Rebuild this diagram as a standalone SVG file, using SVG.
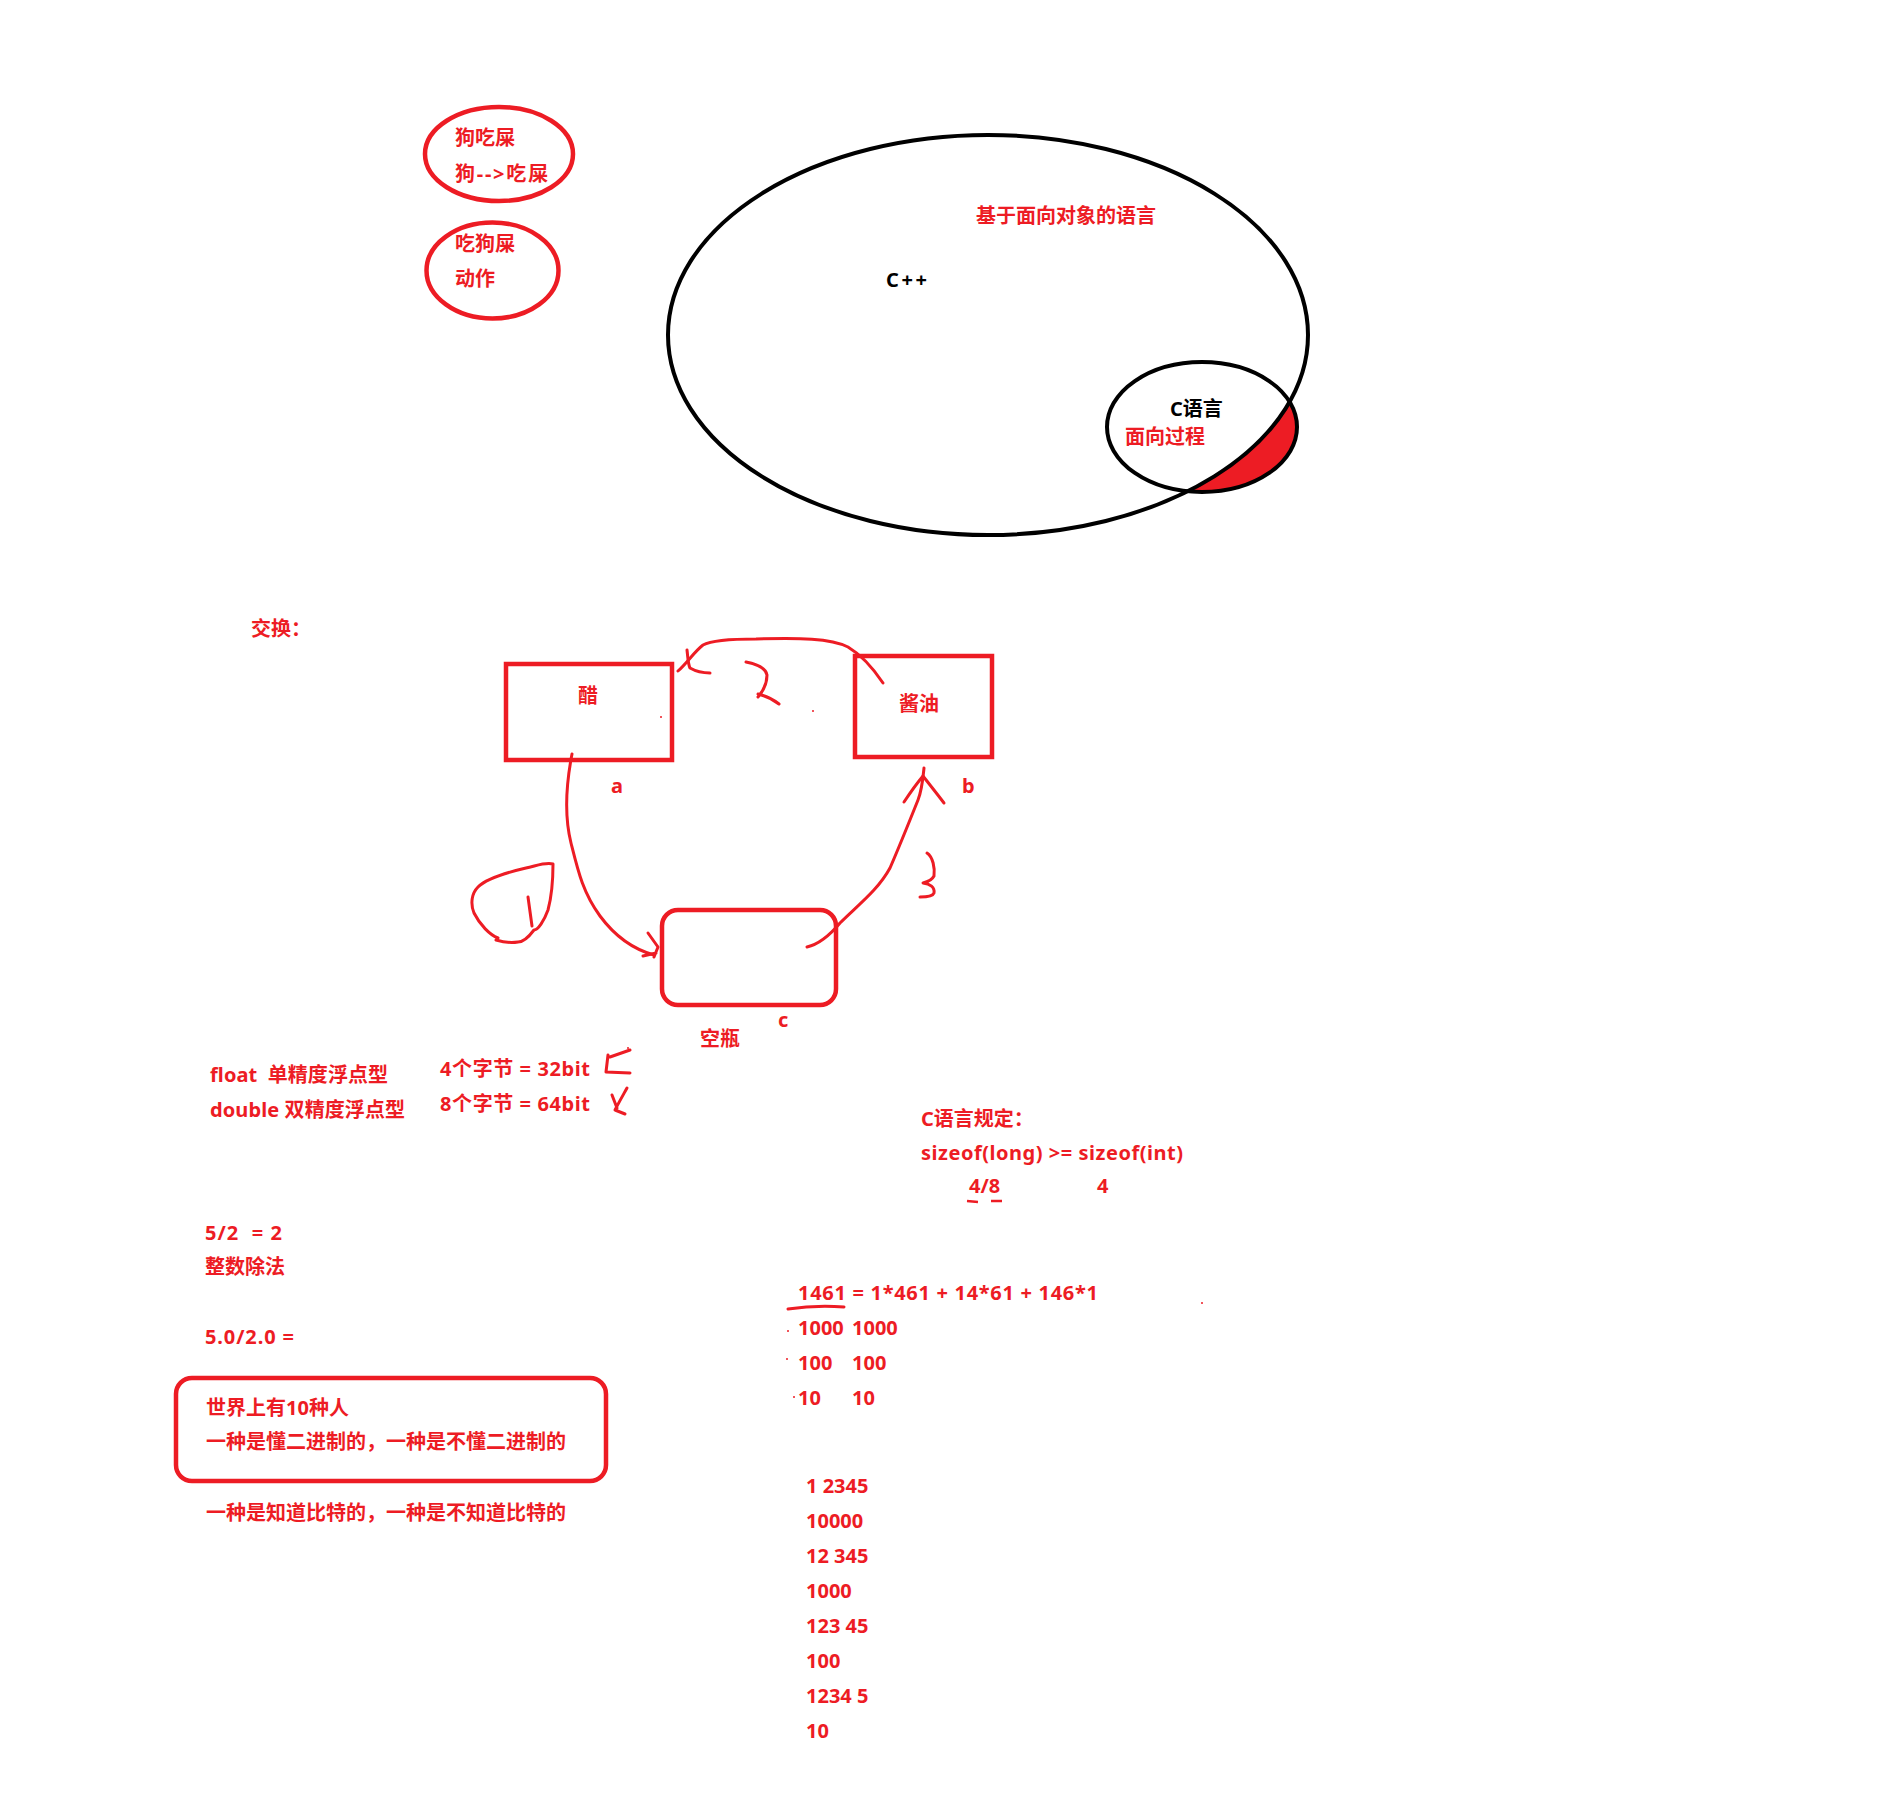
<svg xmlns="http://www.w3.org/2000/svg" width="1895" height="1800" viewBox="0 0 1895 1800">
<style>
.t{font-family:'Noto Sans','Noto Sans CJK SC',sans-serif;font-weight:bold;font-size:20px;fill:#ed1c24;white-space:pre}
.k{fill:#000}
.rb{fill:none;stroke:#ed1c24;stroke-width:4.5}
.h{fill:none;stroke:#ed1c24;stroke-width:3;stroke-linecap:round;stroke-linejoin:round}
.bk{fill:none;stroke:#000;stroke-width:4}
.dot{fill:#ed1c24}
</style>
<rect width="1895" height="1800" fill="#fff"/>
<g id="dog1"><ellipse class="rb" cx="499" cy="154" rx="74" ry="47"/><text class="t" x="455" y="145">狗吃屎</text><text class="t" x="455" y="181" textLength="93" lengthAdjust="spacing">狗--&gt;吃屎</text></g>
<g id="dog2"><ellipse class="rb" cx="492.5" cy="270.5" rx="66" ry="48"/><text class="t" x="455" y="251">吃狗屎</text><text class="t" x="455" y="286">动作</text></g>
<g id="venn">
<ellipse cx="1202" cy="427" rx="95" ry="65" fill="#ed1c24"/>
<ellipse cx="988" cy="335" rx="320" ry="200" fill="#fff" stroke="#000" stroke-width="4"/>
<ellipse class="bk" cx="1202" cy="427" rx="95" ry="65"/>
<text class="t" x="976" y="223">基于面向对象的语言</text>
<text class="t k" x="886" y="287" textLength="41" lengthAdjust="spacing">C++</text>
<text class="t k" x="1170" y="416">C语言</text>
<text class="t" x="1125" y="444">面向过程</text>
</g>
<text class="t" x="251" y="636">交换：</text>
<g id="vinegar"><rect class="rb" x="506" y="664" width="166" height="96"/><text class="t" x="578" y="703">醋</text><text class="t" x="611" y="793">a</text></g>
<g id="soy"><rect class="rb" x="855" y="656" width="137" height="101"/><text class="t" x="899" y="711">酱油</text><text class="t" x="962" y="793">b</text></g>
<g id="bottle"><rect class="rb" x="662" y="910" width="174" height="95" rx="16"/><text class="t" x="778" y="1027">c</text><text class="t" x="700" y="1046">空瓶</text></g>
<g id="connectors">
<path class="h" d="M572,754 C566,785 564,815 571,843 S583,893 600,916 S636,950 654,955"/>
<path class="h" d="M648,933 L658,947 L654,957 M643,956 L656,953"/>
<path class="h" d="M807,947 C820,944 830,935 840,923 C858,905 878,890 890,868 C900,845 910,820 918,800 C922,790 923,778 924,768"/>
<path class="h" d="M904,802 C912,790 918,782 923,776 C930,785 938,795 944,803"/>
<path class="h" d="M883,683 C873,668 863,656 848,647 C830,638 800,638 756,639 C730,639 712,640 703,645 C694,652 688,662 678,671"/>
<path class="h" d="M687,650 C688,658 688,664 690,668 C697,672 704,673 710,673"/>
<path class="h" d="M746,662 C756,664 766,668 767,675 C767,684 764,690 758,697 M758,694 C766,696 774,700 779,704"/>
<path class="h" d="M927,853 C933,857 935,868 934,876 C932,880 927,882 923,883 C930,884 935,887 934,893 C933,896 926,897 920,897"/>
<path class="h" d="M498,938 C490,935 480,925 474,913 C470,903 472,893 478,887 C485,880 500,874 526,868 C536,866 545,862 553,864 C553,875 552,895 548,910 C544,921 538,930 534,930 C528,938 523,942 518,942 C512,943 506,943 496,940"/>
<path class="h" d="M528,897 L532,926"/>
<path class="h" d="M630,1050 L610,1057 M608,1055 L606,1072 L630,1073"/>
<path class="h" d="M627,1088 C622,1097 618,1104 615,1110 L625,1114 M612,1095 L617,1108"/>
<path class="h" d="M788,1309 Q815,1305 844,1307"/>
<path d="M967,1201 L978,1202 M991,1201 L1002,1201" stroke="#ed1c24" stroke-width="2.5" fill="none"/>
<circle class="dot" cx="661" cy="717" r="1"/><circle class="dot" cx="813" cy="711" r="1"/><circle class="dot" cx="628" cy="1048" r="1"/>
<circle class="dot" cx="1202" cy="1303" r="1"/><circle class="dot" cx="788" cy="1331" r="1"/><circle class="dot" cx="787" cy="1359" r="1"/><circle class="dot" cx="794" cy="1397" r="1"/>
</g>
<g id="floats">
<text class="t" x="210" y="1082" textLength="178" lengthAdjust="spacing">float  单精度浮点型</text>
<text class="t" x="210" y="1117" textLength="195" lengthAdjust="spacing">double 双精度浮点型</text>
<text class="t" x="440" y="1076" textLength="150" lengthAdjust="spacing">4个字节 = 32bit</text>
<text class="t" x="440" y="1111" textLength="150" lengthAdjust="spacing">8个字节 = 64bit</text>
</g>
<g id="division">
<text class="t" x="205" y="1240" textLength="77" lengthAdjust="spacing">5/2  = 2</text>
<text class="t" x="205" y="1274">整数除法</text>
<text class="t" x="205" y="1344" textLength="89" lengthAdjust="spacing">5.0/2.0 =</text>
</g>
<g id="joke"><rect class="rb" x="176" y="1378" width="430" height="103" rx="16"/>
<text class="t" x="206" y="1415">世界上有10种人</text>
<text class="t" x="206" y="1449">一种是懂二进制的，一种是不懂二进制的</text>
</g>
<text class="t" x="206" y="1520">一种是知道比特的，一种是不知道比特的</text>
<g id="sizeof">
<text class="t" x="921" y="1126">C语言规定：</text>
<text class="t" x="921" y="1160" textLength="262" lengthAdjust="spacing">sizeof(long) &gt;= sizeof(int)</text>
<text class="t" x="969" y="1193">4/8</text>
<text class="t" x="1097" y="1193">4</text>
</g>
<g id="numbers">
<text class="t" x="798" y="1300" textLength="300" lengthAdjust="spacing">1461 = 1*461 + 14*61 + 146*1</text>
<text class="t" x="798" y="1335">1000</text><text class="t" x="852" y="1335">1000</text>
<text class="t" x="798" y="1370">100</text><text class="t" x="852" y="1370">100</text>
<text class="t" x="798" y="1405">10</text><text class="t" x="852" y="1405">10</text>
<text class="t" x="806" y="1493">1 2345</text>
<text class="t" x="806" y="1528">10000</text>
<text class="t" x="806" y="1563">12 345</text>
<text class="t" x="806" y="1598">1000</text>
<text class="t" x="806" y="1633">123 45</text>
<text class="t" x="806" y="1668">100</text>
<text class="t" x="806" y="1703">1234 5</text>
<text class="t" x="806" y="1738">10</text>
</g>
</svg>
